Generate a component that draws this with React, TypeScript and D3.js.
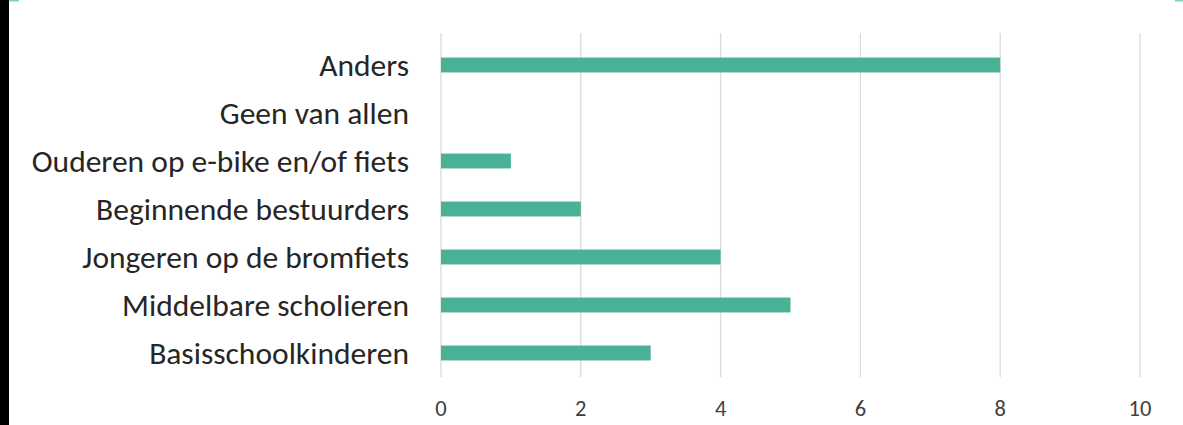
import React from "react";
import * as d3 from "d3";

const categories = [
  "Anders",
  "Geen van allen",
  "Ouderen op e-bike en/of fiets",
  "Beginnende bestuurders",
  "Jongeren op de bromfiets",
  "Middelbare scholieren",
  "Basisschoolkinderen",
];
const values = [8, 0, 1, 2, 4, 5, 3];
const xTicks = [0, 2, 4, 6, 8, 10];

export default function App() {
  const W = 1183, H = 425;
  const x = d3.scaleLinear().domain([0, 10]).range([441, 1140]);
  const y = d3.scaleBand().domain(categories).range([41, 377]).paddingInner(0.69).paddingOuter(0.345);
  const font = "Carlito, Lato, 'Open Sans', sans-serif";
  return (
    <svg width={W} height={H} style={{ position: "absolute", left: 0, top: 0, background: "#fff" }}>
      <rect x={0} y={0} width={9} height={H} fill="#000" />
      <rect x={9} y={0} width={10} height={1.5} fill="#7fd3bf" />
      <rect x={1175} y={0} width={8} height={1.5} fill="#7fd3bf" />
      {xTicks.map((t) => (
        <line key={t} x1={x(t)} x2={x(t)} y1={33} y2={377} stroke="#dadada" strokeWidth={1.3} />
      ))}
      {categories.map((c, i) => (
        <g key={c}>
          <rect x={x(0)} y={y(c)!} width={x(values[i]) - x(0)} height={y.bandwidth()} fill="#4bb196" />
          <text x={409} y={y(c)! + y.bandwidth() / 2} dy="0.36em" textAnchor="end" fontFamily={font} fontSize={31.5} fill="#262626">{c}</text>
        </g>
      ))}
      {xTicks.map((t) => (
        <text key={t} x={x(t)} y={408} dy="0.36em" textAnchor="middle" fontFamily={font} fontSize={22.5} fill="#404040">{t}</text>
      ))}
    </svg>
  );
}
